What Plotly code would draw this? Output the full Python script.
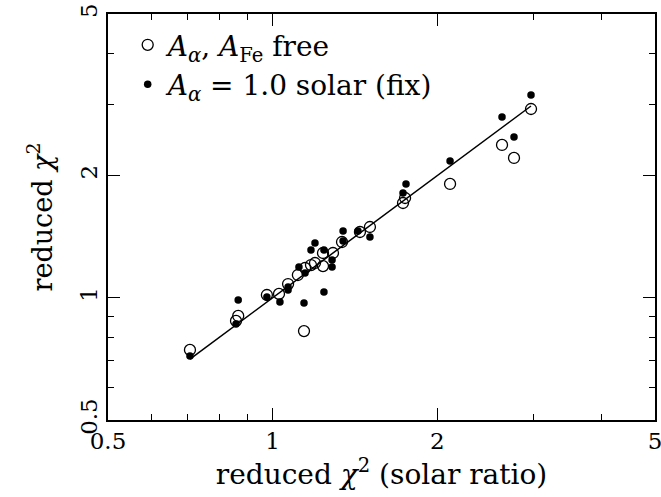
import plotly.graph_objects as go

# Open circles: A_alpha, A_Fe free
free_x = [0.706, 0.865, 0.857, 0.976, 1.027, 1.067, 1.112, 1.141, 1.146, 1.175, 1.195,
          1.236, 1.236, 1.289, 1.339, 1.444, 1.506, 1.746, 1.731, 2.110, 2.626, 2.762, 2.967]
free_y = [0.744, 0.902, 0.877, 1.016, 1.022, 1.081, 1.138, 0.828, 1.184, 1.204, 1.218,
          1.289, 1.197, 1.289, 1.372, 1.452, 1.494, 1.761, 1.712, 1.907, 2.379, 2.210, 2.917]

# Filled circles: A_alpha = 1.0 solar (fix)
fix_x = [0.706, 0.865, 0.857, 0.976, 1.031, 1.067, 1.067, 1.117, 1.141, 1.146, 1.175, 1.195,
         1.241, 1.241, 1.284, 1.284, 1.345, 1.345, 1.432, 1.506, 1.731, 1.753, 2.110, 2.626,
         2.762, 2.967]
fix_y = [0.719, 0.988, 0.862, 1.005, 0.977, 1.045, 1.063, 1.191, 0.971, 1.151, 1.312, 1.365,
         1.312, 1.033, 1.239, 1.191, 1.380, 1.461, 1.461, 1.411, 1.812, 1.907, 2.173, 2.789,
         2.489, 3.158]

tick_vals = [0.5, 1, 2, 5]
tick_text = ["0.5", "1", "2", "5"]
minor_vals = [0.6, 0.7, 0.8, 0.9, 3, 4]

all_x = free_x + fix_x
line_x = [min(all_x), max(all_x)]
line_y = line_x

FONT = "DejaVu Serif"

fig = go.Figure()
fig.add_trace(go.Scatter(x=line_x, y=line_y, mode="lines",
                         line=dict(color="black", width=1.5), showlegend=False))
fig.add_trace(go.Scatter(x=free_x, y=free_y, mode="markers",
                         name="<i>A</i><sub><i>α</i></sub>, <i>A</i><sub>Fe</sub> free",
                         marker=dict(symbol="circle-open", size=11, color="black",
                                     line=dict(width=1.3, color="black"))))
fig.add_trace(go.Scatter(x=fix_x, y=fix_y, mode="markers",
                         name="<i>A</i><sub><i>α</i></sub> = 1.0 solar (fix)",
                         marker=dict(symbol="circle", size=7.5, color="black")))

axis_common = dict(
    type="log",
    automargin=False,
    tickmode="array",
    tickvals=tick_vals,
    ticktext=tick_text,
    ticks="inside",
    ticklen=12,
    tickwidth=1,
    tickcolor="black",
    ticklabeloverflow="allow",
    showline=True,
    linecolor="black",
    linewidth=1.5,
    mirror="ticks",
    showgrid=False,
    zeroline=False,
    tickfont=dict(family=FONT, size=23, color="black"),
    minor=dict(tickmode="array", tickvals=minor_vals, ticks="inside", ticklen=6,
               tickwidth=1, tickcolor="black", showgrid=False),
)

fig.update_xaxes(**axis_common, range=[0.69897 - 1, 0.69897],
                 title=dict(text="reduced <i>χ</i><sup>2</sup> (solar ratio)",
                            font=dict(family=FONT, size=28, color="black"), standoff=4))
fig.update_yaxes(**axis_common, range=[0.69897 - 1, 0.69897], tickangle=-90,
                 title=dict(text="reduced <i>χ</i><sup>2</sup>",
                            font=dict(family=FONT, size=27, color="black"), standoff=16))

fig.update_layout(
    width=661, height=497,
    margin=dict(l=108, r=6, t=14, b=77),
    paper_bgcolor="white", plot_bgcolor="white",
    font=dict(family=FONT, color="black"),
    legend=dict(x=0.036, y=0.985, xanchor="left", yanchor="top",
                bgcolor="rgba(0,0,0,0)", font=dict(family=FONT, size=28, color="black"),
                itemwidth=30, tracegroupgap=0),
)

# remove the default page margin so the figure fills the window exactly
fig.write_html("out.html", config={"displayModeBar": False},
               post_script="document.body.style.margin='0';")
